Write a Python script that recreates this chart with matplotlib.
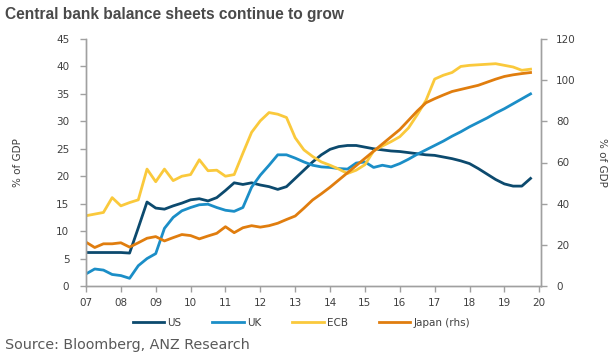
import numpy as np
import pandas as pd
import matplotlib
matplotlib.use('Agg')
import matplotlib.pyplot as plt

# Quarterly, 2007Q1 - 2019Q4, % of GDP
quarters = pd.period_range('2007Q1', '2019Q4', freq='Q')
us = [6.1, 6.1, 6.1, 6.1,
      6.1, 6.0, 10.6, 15.3,
      14.2, 14.0, 14.6, 15.1,
      15.7, 15.9, 15.5, 16.1,
      17.4, 18.8, 18.5, 18.8,
      18.4, 18.1, 17.6, 18.1,
      19.6, 21.1, 22.6, 23.9,
      24.9, 25.4, 25.6, 25.6,
      25.3, 25.0, 24.8, 24.6,
      24.5, 24.3, 24.1, 23.9,
      23.8, 23.5, 23.2, 22.8,
      22.3, 21.4, 20.4, 19.4,
      18.6, 18.2, 18.2, 19.6]
uk = [2.2, 3.1, 2.9, 2.1,
      1.9, 1.4, 3.7, 5.0,
      5.9, 10.5, 12.5, 13.7,
      14.3, 14.8, 14.9, 14.3,
      13.8, 13.6, 14.3, 18.0,
      20.2, 22.0, 23.9, 23.9,
      23.3, 22.6, 22.0, 21.7,
      21.6, 21.4, 21.3, 22.4,
      22.6, 21.6, 22.0, 21.7,
      22.3, 23.1, 24.0, 24.8,
      25.6, 26.4, 27.3, 28.1,
      29.0, 29.8, 30.6, 31.5,
      32.3, 33.2, 34.1, 35.0]
ecb = [12.8, 13.1, 13.4, 16.1,
       14.6, 15.2, 15.7, 21.3,
       19.0, 21.3, 19.2, 20.0,
       20.3, 23.0, 21.0, 21.1,
       20.0, 20.3, 24.2, 28.0,
       30.1, 31.6, 31.3, 30.7,
       27.0, 24.8, 23.6, 22.6,
       22.0, 21.3, 20.5, 21.1,
       22.1, 24.6, 25.5, 26.3,
       27.2, 28.8, 31.2, 33.8,
       37.7, 38.4, 38.9, 40.0,
       40.2, 40.3, 40.4, 40.5,
       40.2, 39.9, 39.3, 39.5]
# Japan on the right-hand scale
japan = [21.3, 18.7, 20.5, 20.5,
         21.0, 18.9, 21.0, 23.2,
         24.0, 21.9, 23.5, 25.0,
         24.5, 22.9, 24.3, 25.6,
         28.8, 25.9, 28.3, 29.3,
         28.6, 29.3, 30.5, 32.3,
         34.0, 37.8, 41.8, 44.8,
         48.0, 51.5, 55.0, 58.5,
         62.0, 65.5, 69.0, 72.5,
         76.0, 80.5, 85.0, 89.0,
         91.0, 92.8, 94.5, 95.5,
         96.5, 97.5, 99.0, 100.5,
         101.8, 102.6, 103.2, 103.7]

year_ticks = list(range(2007, 2021))
year_labels = ['%02d' % (y % 100) for y in year_ticks]

t = quarters.year + (quarters.quarter - 1) / 4.0

c_us = '#0c4a6e'
c_uk = '#1b8ec7'
c_ecb = '#fac93c'
c_jp = '#e07d0e'
txt = '#404040'
spine = '#a0a0a0'

plt.rcParams['font.family'] = ['DejaVu Sans']

fig = plt.figure(figsize=(6.15, 3.63), dpi=100)
ax = fig.add_axes([86/615, 1-286/363, (541-86)/615, (286-39)/363])
ax2 = ax.twinx()

lw = 2.0
l1, = ax.plot(t, us, color=c_us, lw=lw, label='US')
l2, = ax.plot(t, uk, color=c_uk, lw=lw, label='UK')
l3, = ax.plot(t, ecb, color=c_ecb, lw=lw, label='ECB')
l4, = ax2.plot(t, japan, color=c_jp, lw=lw, label='Japan (rhs)')

ax.set_xlim(2007, 2020.05)
ax.set_ylim(0, 45)
ax2.set_ylim(0, 120)
ax.set_yticks(range(0, 50, 5))
ax2.set_yticks(range(0, 140, 20))
ax.set_xticks(year_ticks)
ax.set_xticklabels(year_labels)

for a in (ax, ax2):
    a.spines['top'].set_visible(False)
    for s in ('left', 'right', 'bottom'):
        a.spines[s].set_color(spine)
        a.spines[s].set_linewidth(1.0)
    a.tick_params(colors=spine, labelcolor=txt, labelsize=7.5, length=4, width=1)
ax.tick_params(axis='y', pad=8)
ax2.tick_params(axis='y', pad=7)
ax.tick_params(axis='x', pad=5)

ax.set_ylabel('% of GDP', fontsize=7.5, color=txt, labelpad=24)
ax2.set_ylabel('% of GDP', fontsize=7.5, color=txt, rotation=270, labelpad=22)

fig.legend(handles=[l1, l2, l3, l4], loc='center', bbox_to_anchor=(0.49, 1-323/363),
           ncol=4, frameon=False, fontsize=7.5, handlelength=3.0, handletextpad=0.3,
           columnspacing=3.0, labelcolor=txt)

fig.text(5/615, 1-14/363, 'Central bank balance sheets continue to grow',
         fontsize=11.2, fontweight='bold', color='#4a4a4a', va='center', ha='left',
         family='Liberation Sans')
fig.text(5/615, 1-345/363, 'Source: Bloomberg, ANZ Research',
         fontsize=10.3, color='#595959', va='center', ha='left')

fig.savefig('out.png', dpi=100)
